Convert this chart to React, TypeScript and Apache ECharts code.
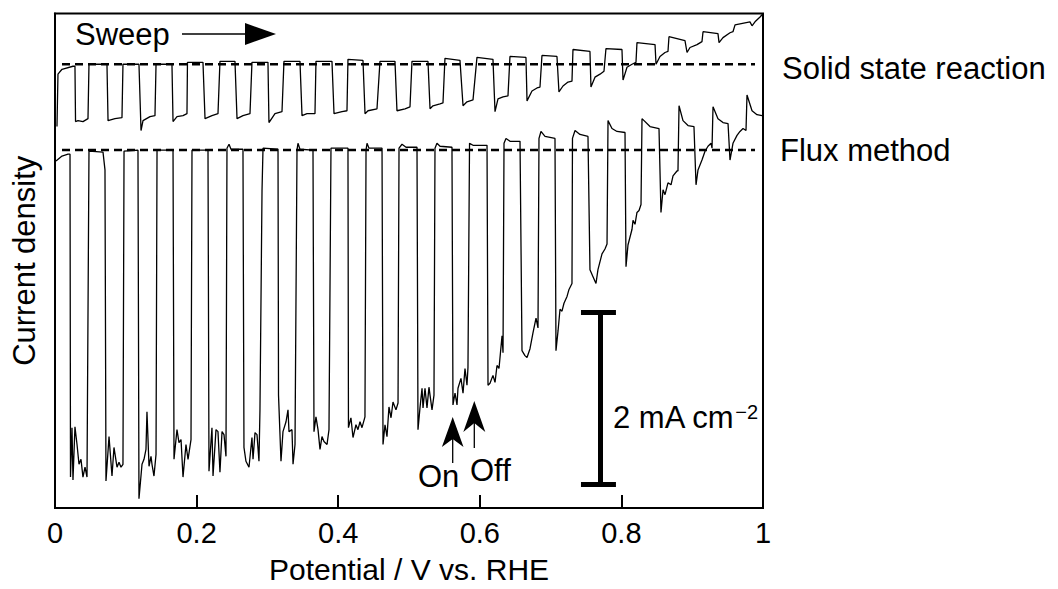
import React, { useEffect, useRef } from 'react';
import * as echarts from 'echarts';

// ---------- data (x: Potential / V vs. RHE, y: current density / mA cm^-2, relative) ----------
const xTickLabels = ['0', '0.2', '0.4', '0.6', '0.8', '1'];

// dark-current reference levels (dashed)
const ssrDarkLine: [number, number][] = [[0.0099, 0.997], [0.9887, 0.997]];
const fluxDarkLine: [number, number][] = [[0.0099, 0.0], [0.9887, 0.0]];

// scale bar: 2 mA cm^-2
const scaleBarX = 0.7698;
const scaleBarCapLeft = 0.7429;
const scaleBarCapRight = 0.7923;
const scaleBarJ = [-1.888, -3.888];

// Solid state reaction trace (offset +1)
const ssrTrace: [number, number][] = [
  [0.0028, 0.272], [0.0042, 0.882], [0.0099, 0.939], [0.0254, 0.974], [0.0282, 0.974],
  [0.0290, 0.330], [0.0325, 0.341], [0.0395, 0.330], [0.0466, 0.364], [0.0480, 0.997],
  [0.0734, 0.997], [0.0749, 0.341], [0.0847, 0.364], [0.0946, 0.376], [0.0960, 0.997],
  [0.1186, 0.997], [0.1215, 0.226], [0.1243, 0.341], [0.1342, 0.387], [0.1412, 0.399],
  [0.1427, 0.997], [0.1652, 0.997], [0.1667, 0.330], [0.1723, 0.387], [0.1808, 0.399],
  [0.1864, 0.422], [0.1871, 1.020], [0.2090, 1.020], [0.2119, 0.364], [0.2217, 0.399],
  [0.2302, 0.422], [0.2330, 1.031], [0.2542, 1.031], [0.2571, 0.364], [0.2655, 0.399],
  [0.2754, 0.422], [0.2782, 1.020], [0.3008, 1.020], [0.3022, 0.318], [0.3107, 0.422],
  [0.3206, 0.445], [0.3234, 1.031], [0.3460, 1.031], [0.3489, 0.399], [0.3559, 0.422],
  [0.3672, 0.422], [0.3686, 1.031], [0.3912, 1.031], [0.3941, 0.422], [0.4054, 0.445],
  [0.4124, 0.456], [0.4138, 1.054], [0.4350, 1.042], [0.4379, 0.422], [0.4421, 0.456],
  [0.4548, 0.479], [0.4590, 1.031], [0.4802, 1.031], [0.4830, 0.456], [0.4944, 0.479],
  [0.5014, 0.502], [0.5042, 1.031], [0.5268, 1.031], [0.5297, 0.479], [0.5339, 0.514],
  [0.5438, 0.537], [0.5480, 0.548], [0.5508, 1.066], [0.5720, 1.042], [0.5763, 0.514],
  [0.5819, 0.560], [0.5904, 0.583], [0.5960, 1.077], [0.6186, 1.054], [0.6215, 0.445],
  [0.6257, 0.594], [0.6328, 0.617], [0.6398, 0.629], [0.6426, 1.088], [0.6652, 1.077],
  [0.6667, 0.571], [0.6737, 0.686], [0.6808, 0.721], [0.6850, 0.732], [0.6878, 1.100],
  [0.7090, 1.088], [0.7118, 0.675], [0.7175, 0.744], [0.7246, 0.790], [0.7302, 0.801],
  [0.7316, 1.169], [0.7556, 1.146], [0.7570, 0.732], [0.7627, 0.847], [0.7698, 0.882],
  [0.7754, 0.916], [0.7782, 1.180], [0.8008, 1.169], [0.8023, 0.813], [0.8079, 0.962],
  [0.8150, 0.997], [0.8206, 1.020], [0.8220, 1.249], [0.8475, 1.226], [0.8489, 0.997],
  [0.8545, 1.088], [0.8616, 1.134], [0.8658, 1.146], [0.8672, 1.318], [0.8898, 1.272],
  [0.8927, 1.134], [0.8969, 1.192], [0.9068, 1.226], [0.9138, 1.261], [0.9153, 1.376],
  [0.9364, 1.353], [0.9379, 1.249], [0.9435, 1.307], [0.9534, 1.364], [0.9576, 1.376],
  [0.9605, 1.456], [0.9816, 1.491], [0.9845, 1.445], [0.9887, 1.491], [0.9958, 1.548],
  [1.0, 1.585],
];

// Flux method trace
const fluxTrace: [number, number][] = [
  [0.0014, -0.130], [0.0099, -0.072], [0.0184, -0.049], [0.0212, -0.049], [0.0219, -3.808],
  [0.0240, -3.233], [0.0254, -3.842], [0.0282, -3.222], [0.0311, -3.429], [0.0339, -3.659],
  [0.0367, -3.601], [0.0395, -3.808], [0.0424, -3.693], [0.0452, -3.808], [0.0480, -0.015],
  [0.0678, -0.026], [0.0706, -0.233], [0.0720, -3.854], [0.0763, -3.337], [0.0805, -3.796],
  [0.0833, -3.463], [0.0876, -3.693], [0.0904, -3.636], [0.0932, -3.693], [0.0960, -3.659],
  [0.0975, -0.015], [0.1172, -0.003], [0.1186, -4.061], [0.1229, -3.659], [0.1257, -3.601],
  [0.1285, -3.486], [0.1299, -3.049], [0.1328, -3.682], [0.1356, -3.567], [0.1370, -3.659],
  [0.1398, -3.796], [0.1427, -3.544], [0.1441, -0.003], [0.1667, -0.003], [0.1681, -3.601],
  [0.1723, -3.256], [0.1751, -3.406], [0.1780, -3.371], [0.1808, -3.808], [0.1850, -3.429],
  [0.1879, -3.601], [0.1921, -3.371], [0.1935, -0.003], [0.2161, -0.003], [0.2175, -3.739],
  [0.2217, -3.233], [0.2232, -3.796], [0.2274, -3.256], [0.2302, -3.279], [0.2330, -3.751],
  [0.2359, -3.279], [0.2387, -3.314], [0.2415, -3.567], [0.2429, 0.020], [0.2458, 0.066],
  [0.2486, 0.008], [0.2655, 0.008], [0.2669, -3.463], [0.2697, -3.624], [0.2740, -3.693],
  [0.2782, -3.348], [0.2797, -3.601], [0.2825, -3.291], [0.2853, -3.314], [0.2881, -3.624],
  [0.2895, -3.026], [0.2924, -0.475], [0.2938, 0.020], [0.3150, 0.008], [0.3157, -2.854],
  [0.3192, -3.624], [0.3220, -3.279], [0.3263, -3.164], [0.3291, -3.026], [0.3305, -3.279],
  [0.3347, -3.256], [0.3362, -3.659], [0.3390, -3.429], [0.3418, -0.003], [0.3432, 0.077],
  [0.3460, 0.008], [0.3644, -0.003], [0.3658, -3.279], [0.3686, -3.107], [0.3715, -3.256],
  [0.3743, -3.486], [0.3771, -3.337], [0.3799, -3.394], [0.3842, -3.429], [0.3870, -3.256],
  [0.3898, 0.020], [0.4138, 0.020], [0.4145, -3.233], [0.4180, -3.118], [0.4209, -3.348],
  [0.4251, -3.199], [0.4279, -3.256], [0.4308, -3.164], [0.4336, -3.233], [0.4378, -3.107],
  [0.4393, -0.003], [0.4407, 0.077], [0.4435, 0.020], [0.4619, 0.020], [0.4633, -3.429],
  [0.4661, -3.199], [0.4689, -3.337], [0.4717, -2.992], [0.4746, -3.118], [0.4774, -2.934],
  [0.4816, -3.026], [0.4845, -2.946], [0.4859, 0.020], [0.4901, 0.066], [0.4958, 0.031],
  [0.5113, 0.031], [0.5127, -3.256], [0.5155, -3.003], [0.5184, -2.774], [0.5198, -3.003],
  [0.5226, -2.774], [0.5254, -3.003], [0.5282, -2.762], [0.5325, -3.026], [0.5353, -2.854],
  [0.5367, 0.020], [0.5395, 0.077], [0.5438, 0.043], [0.5607, 0.031], [0.5621, -2.969],
  [0.5650, -2.831], [0.5678, -2.969], [0.5692, -2.774], [0.5734, -2.659], [0.5763, -2.831],
  [0.5791, -2.544], [0.5819, -2.739], [0.5833, -2.532], [0.5855, 0.077], [0.5904, 0.054],
  [0.6102, 0.054], [0.6116, -2.739], [0.6144, -2.716], [0.6186, -2.624], [0.6215, -2.705],
  [0.6243, -2.509], [0.6271, -2.544], [0.6314, -2.164], [0.6328, -2.360], [0.6342, 0.077],
  [0.6370, 0.134], [0.6427, 0.100], [0.6568, 0.100], [0.6596, -2.337], [0.6638, -2.394],
  [0.6667, -2.417], [0.6709, -2.314], [0.6751, -2.130], [0.6794, -1.957], [0.6822, -2.072],
  [0.6836, 0.134], [0.6864, 0.215], [0.6921, 0.157], [0.7062, 0.134], [0.7076, -2.337],
  [0.7105, -2.107], [0.7133, -1.854], [0.7161, -1.877], [0.7189, -1.785], [0.7232, -1.705],
  [0.7260, -1.624], [0.7302, -1.555], [0.7309, 0.134], [0.7345, 0.226], [0.7415, 0.180],
  [0.7528, 0.157], [0.7556, -1.394], [0.7599, -1.475], [0.7641, -1.555], [0.7669, -1.394],
  [0.7726, -1.210], [0.7768, -1.153], [0.7797, -1.095], [0.7811, 0.341], [0.7867, 0.249],
  [0.7938, 0.215], [0.8051, 0.203], [0.8065, -1.360], [0.8093, -1.107], [0.8150, -0.923],
  [0.8164, -0.820], [0.8192, -0.866], [0.8220, -0.728], [0.8249, -0.705], [0.8277, -0.636],
  [0.8291, 0.364], [0.8404, 0.272], [0.8531, 0.249], [0.8559, -0.728], [0.8588, -0.463],
  [0.8616, -0.521], [0.8658, -0.383], [0.8701, -0.406], [0.8729, -0.302], [0.8785, -0.245],
  [0.8799, -0.245], [0.8814, 0.514], [0.8870, 0.341], [0.8941, 0.284], [0.9025, 0.272],
  [0.9054, -0.406], [0.9082, -0.233], [0.9138, -0.118], [0.9181, -0.015], [0.9223, 0.043],
  [0.9266, 0.077], [0.9280, 0.020], [0.9294, 0.502], [0.9364, 0.364], [0.9435, 0.318],
  [0.9506, 0.307], [0.9534, -0.118], [0.9576, 0.077], [0.9633, 0.169], [0.9675, 0.215],
  [0.9718, 0.249], [0.9760, 0.226], [0.9774, 0.640], [0.9845, 0.456], [0.9915, 0.410],
  [0.9986, 0.399],
];

const FONT = "'Liberation Sans', Arial, Helvetica, sans-serif";

export default function App() {
  const ref = useRef<HTMLDivElement>(null);

  useEffect(() => {
    document.body.style.margin = '0';
    const chart = echarts.init(ref.current!, null, { renderer: 'svg' });

    const txt = (text: string, x: number, y: number, size = 31) => ({
      type: 'text',
      x,
      y,
      style: { text, fontSize: size, fontFamily: FONT, fill: '#000', align: 'left', verticalAlign: 'middle' },
      z: 100,
    });

    chart.setOption({
      animation: false,
      backgroundColor: '#fff',
      grid: {
        left: 55,
        right: 295,
        top: 13.5,
        bottom: 74.7,
        show: true,
        borderColor: '#000',
        borderWidth: 2,
        backgroundColor: 'transparent',
      },
      xAxis: {
        type: 'value',
        min: 0,
        max: 1,
        interval: 0.2,
        name: 'Potential / V vs. RHE',
        nameLocation: 'middle',
        nameGap: 46,
        nameTextStyle: { fontSize: 30, fontFamily: FONT, color: '#000' },
        axisLine: { show: true, onZero: false, lineStyle: { color: '#000', width: 2 } },
        axisTick: { show: true, inside: true, length: 13, lineStyle: { color: '#000', width: 2 } },
        axisLabel: {
          fontSize: 29,
          fontFamily: FONT,
          color: '#000',
          margin: 10,
          formatter: (v: number) => xTickLabels[Math.round(v / 0.2)],
        },
        splitLine: { show: false },
      },
      yAxis: {
        type: 'value',
        min: -4.168,
        max: 1.588,
        name: 'Current density',
        nameLocation: 'middle',
        nameGap: 15,
        nameTextStyle: { fontSize: 31, fontFamily: FONT, color: '#000' },
        axisLine: { show: true, onZero: false, lineStyle: { color: '#000', width: 2 } },
        axisTick: { show: false },
        axisLabel: { show: false },
        splitLine: { show: false },
      },
      series: [
        {
          name: 'Solid state reaction',
          type: 'line',
          data: ssrTrace,
          showSymbol: false,
          symbol: 'none',
          lineStyle: { color: '#000', width: 1.3 },
        },
        {
          name: 'Flux method',
          type: 'line',
          data: fluxTrace,
          showSymbol: false,
          symbol: 'none',
          lineStyle: { color: '#000', width: 1.3 },
        },
        {
          name: 'SSR dark',
          type: 'line',
          data: ssrDarkLine,
          showSymbol: false,
          symbol: 'none',
          lineStyle: { color: '#000', width: 2.4, type: [8, 5] },
        },
        {
          name: 'Flux dark',
          type: 'line',
          data: fluxDarkLine,
          showSymbol: false,
          symbol: 'none',
          lineStyle: { color: '#000', width: 2.4, type: [8, 5] },
        },
        {
          name: 'Scale bar',
          type: 'lines',
          coordinateSystem: 'cartesian2d',
          polyline: false,
          lineStyle: { color: '#000', width: 5, opacity: 1 },
          data: [
            { coords: [[scaleBarX, scaleBarJ[0]], [scaleBarX, scaleBarJ[1]]] },
            { coords: [[scaleBarCapLeft, scaleBarJ[0]], [scaleBarCapRight, scaleBarJ[0]]] },
            { coords: [[scaleBarCapLeft, scaleBarJ[1]], [scaleBarCapRight, scaleBarJ[1]]] },
          ],
        },
      ],
      graphic: [
        txt('Sweep', 75, 34),
        { type: 'line', shape: { x1: 182, y1: 34, x2: 250, y2: 34 }, style: { stroke: '#000', lineWidth: 1.5 } },
        { type: 'polygon', shape: { points: [[245, 23], [276, 34], [245, 45]] }, style: { fill: '#000' } },
        txt('Solid state reaction', 782, 68),
        txt('Flux method', 780, 150),
        // On / Off arrows
        { type: 'line', shape: { x1: 452.7, y1: 438, x2: 452.7, y2: 463 }, style: { stroke: '#000', lineWidth: 1.3 } },
        { type: 'polygon', shape: { points: [[452.7, 417], [463.5, 447], [452.7, 439], [441.9, 447]] }, style: { fill: '#000' } },
        { type: 'line', shape: { x1: 474.3, y1: 422, x2: 474.3, y2: 448 }, style: { stroke: '#000', lineWidth: 1.3 } },
        { type: 'polygon', shape: { points: [[474.3, 401], [485.3, 432], [474.3, 423], [463.3, 432]] }, style: { fill: '#000' } },
        txt('On', 418, 476),
        txt('Off', 470, 470),
        {
          type: 'text',
          x: 613,
          y: 417,
          z: 100,
          style: {
            text: '{m|2 mA cm}{s|−2}',
            fontFamily: FONT,
            fill: '#000',
            align: 'left',
            verticalAlign: 'middle',
            rich: {
              m: { fontSize: 31, fontFamily: FONT, fill: '#000' },
              s: { fontSize: 20, fontFamily: FONT, fill: '#000', verticalAlign: 'top' },
            },
          },
        },
      ],
    });

    return () => chart.dispose();
  }, []);

  return <div ref={ref} style={{ width: 1058, height: 589 }} />;
}
